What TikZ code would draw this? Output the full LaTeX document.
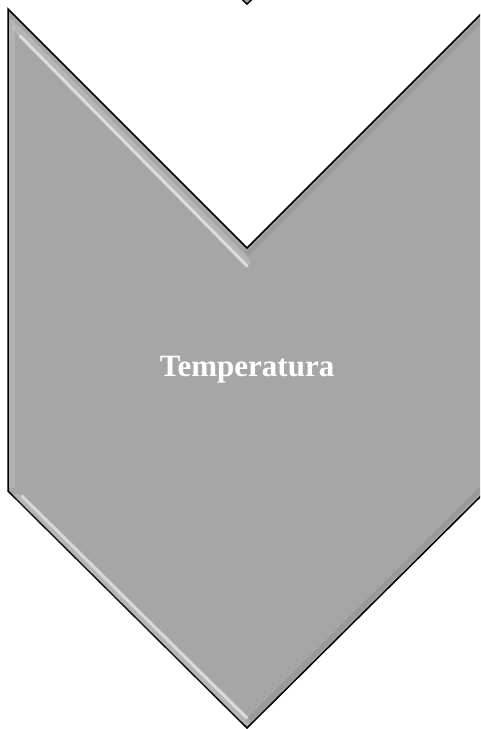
\documentclass[tikz,border=0pt]{standalone}
\usepackage{fontspec}
\setmainfont{Liberation Serif}
\begin{document}
\begin{tikzpicture}[x=1pt,y=-1pt,
  chevron/.style={fill=chevgray,draw=black,line width=1.5pt,line join=miter},
  hilite/.style={white,line width=3pt,opacity=0.55,line cap=round},
  softhi/.style={white,line width=7pt,opacity=0.18,line cap=round},
  shade/.style={black,line width=5pt,opacity=0.07},
  label/.style={text=white,font=\bfseries\fontsize{31}{36}\selectfont,inner sep=0pt}]
\definecolor{chevgray}{RGB}{166,166,166}
\useasboundingbox (0,0) rectangle (480,729);
\begin{scope}
\clip (0,0) rectangle (480,729);
% tip of the chevron above
\draw[chevron] (200,-40) -- (247,4) -- (294,-40);
% main chevron
\draw[chevron] (8,9) -- (247,248) -- (486,9) -- (486,491) -- (247,728) -- (8,491) -- cycle;
% bevel highlights (left edges)
\clip (8,9) -- (247,248) -- (486,9) -- (486,491) -- (247,728) -- (8,491) -- cycle;
\draw[softhi] (16,28) -- (247,262);
\draw[hilite] (20,36) -- (247,266);
\draw[softhi] (16,497) -- (247,722);
\draw[hilite] (22,496) -- (247,718);
\draw[white,line width=6pt,opacity=0.15] (12,20) -- (12,488);
% soft dark shading along right edges
\draw[shade] (247,254) -- (486,15);
\draw[shade] (247,722) -- (486,484);
\end{scope}
\node[label] (t) at (247,370) {Temperatura};
\end{tikzpicture}
\end{document}
